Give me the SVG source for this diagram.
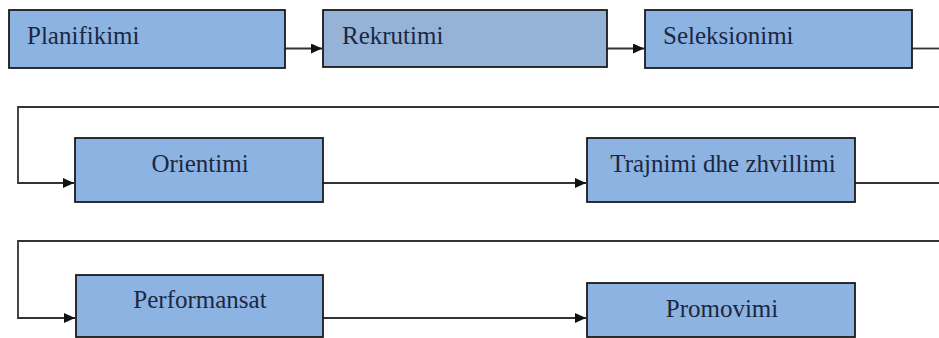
<svg xmlns="http://www.w3.org/2000/svg" width="939" height="338" viewBox="0 0 939 338">
<style>
.box{fill:#8db3e2;stroke:#1a1a1a;stroke-width:1.8}
.box2{fill:#95b3d7;stroke:#1a1a1a;stroke-width:1.8}
.lbl{font-family:"Liberation Serif","Times New Roman",serif;font-size:25px;fill:#1c2740}
.ln{fill:none;stroke:#333;stroke-width:1.8}
</style>
<defs>
<marker id="ah" markerWidth="11" markerHeight="10" refX="11" refY="5" orient="auto" markerUnits="userSpaceOnUse">
<path d="M0,0 L11,5 L0,10 Z" fill="#111"/>
</marker>
</defs>
<rect width="939" height="338" fill="#fff"/>
<g id="connectors">
<path class="ln" d="M285,48.5 H322" marker-end="url(#ah)"/>
<path class="ln" d="M607,48.5 H644" marker-end="url(#ah)"/>
<path class="ln" d="M912,48.5 H939"/>
<path class="ln" d="M939,107 H18 V183 H74" marker-end="url(#ah)"/>
<path class="ln" d="M323,183 H586" marker-end="url(#ah)"/>
<path class="ln" d="M855,183 H939"/>
<path class="ln" d="M939,241 H18 V318 H75" marker-end="url(#ah)"/>
<path class="ln" d="M323,318 H586" marker-end="url(#ah)"/>
</g>
<g id="planifikimi">
<rect class="box" x="9" y="10" width="276" height="58"/>
<text class="lbl" x="27" y="44">Planifikimi</text>
</g>
<g id="rekrutimi">
<rect class="box2" x="323" y="10" width="284" height="57"/>
<text class="lbl" x="342" y="44">Rekrutimi</text>
</g>
<g id="seleksionimi">
<rect class="box" x="645" y="10" width="267" height="58"/>
<text class="lbl" x="663" y="44">Seleksionimi</text>
</g>
<g id="orientimi">
<rect class="box" x="75" y="138" width="248" height="64"/>
<text class="lbl" x="200" y="172" text-anchor="middle">Orientimi</text>
</g>
<g id="trajnimi">
<rect class="box" x="587" y="138" width="268" height="64"/>
<text class="lbl" x="723" y="172" text-anchor="middle">Trajnimi dhe zhvillimi</text>
</g>
<g id="performansat">
<rect class="box" x="76" y="275" width="247" height="62"/>
<text class="lbl" x="200" y="308" text-anchor="middle">Performansat</text>
</g>
<g id="promovimi">
<rect class="box" x="587" y="283" width="268" height="54"/>
<text class="lbl" x="722" y="317" text-anchor="middle">Promovimi</text>
</g>
</svg>
